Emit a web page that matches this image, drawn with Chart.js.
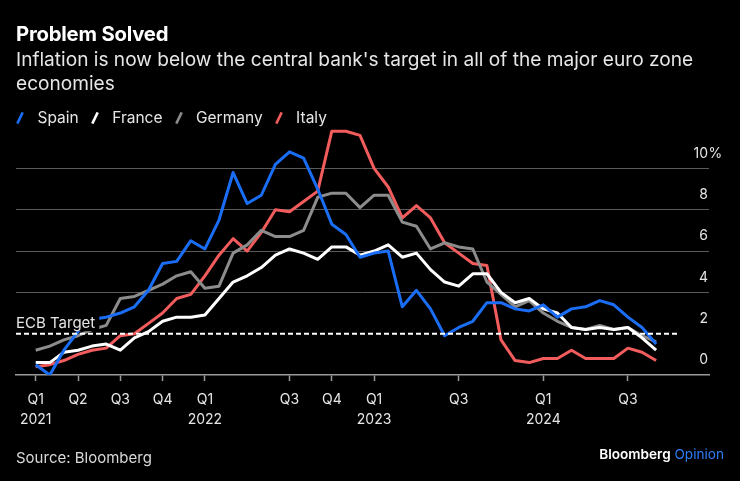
<!DOCTYPE html>
<html>
<head>
<meta charset="utf-8">
<script src="https://cdn.jsdelivr.net/npm/chart.js@4.4.1/dist/chart.umd.min.js"></script>
<style>
html,body{margin:0;padding:0;background:#000;}
#wrap{position:relative;width:740px;height:481px;overflow:hidden;background:#000;font-family:Inter,"Noto Sans",sans-serif;}
#c{position:absolute;left:0;top:0;}
.t{position:absolute;white-space:nowrap;}
#title{left:16px;top:22px;font-size:20.3px;font-weight:700;color:#fff;line-height:24.6px;letter-spacing:-0.2px;}
#sub{left:16px;top:46.6px;font-size:19.1px;color:#e6e6e6;line-height:24.3px;}
#legend{left:16px;top:107.7px;height:20px;font-size:15.5px;color:#e6e6e6;line-height:20px;display:flex;}
.li{display:flex;align-items:flex-start;margin-right:12px;}
.li svg{margin-top:4.5px;margin-right:13.5px;}
#src{left:16px;top:447.8px;font-size:15px;color:#d9d9d9;line-height:20px;}
#brand{right:16px;top:444.2px;font-size:13.6px;line-height:20px;}
#brand b{font-weight:600;color:#fff;}
#brand span{color:#2d7ff9;}
</style>
</head>
<body>
<div id="wrap">
  <canvas id="c" width="740" height="481"></canvas>
  <div class="t" id="title">Problem Solved</div>
  <div class="t" id="sub">Inflation is now below the central bank's target in all of the major euro zone<br>economies</div>
  <div class="t" id="legend"></div>
  <div class="t" id="src">Source: Bloomberg</div>
  <div class="t" id="brand"><b>Bloomberg</b> <span>Opinion</span></div>
</div>
<script>
// ---- data: monthly CPI, y/y %, Jan 2021 - Sep 2024 ----
const months = [
  "Jan 2021","Feb 2021","Mar 2021","Apr 2021","May 2021","Jun 2021","Jul 2021","Aug 2021","Sep 2021","Oct 2021","Nov 2021","Dec 2021",
  "Jan 2022","Feb 2022","Mar 2022","Apr 2022","May 2022","Jun 2022","Jul 2022","Aug 2022","Sep 2022","Oct 2022","Nov 2022","Dec 2022",
  "Jan 2023","Feb 2023","Mar 2023","Apr 2023","May 2023","Jun 2023","Jul 2023","Aug 2023","Sep 2023","Oct 2023","Nov 2023","Dec 2023",
  "Jan 2024","Feb 2024","Mar 2024","Apr 2024","May 2024","Jun 2024","Jul 2024","Aug 2024","Sep 2024"
];
const seriesNames = ["Spain","France","Germany","Italy"];
const spain = [0.5,0.0,1.2,2.1,2.7,2.8,3.0,3.3,4.1,5.4,5.5,6.5,
  6.1,7.5,9.8,8.3,8.7,10.2,10.8,10.5,9.0,7.3,6.8,5.7,
  5.9,6.0,3.3,4.1,3.2,1.9,2.3,2.6,3.5,3.5,3.2,3.1,
  3.4,2.8,3.2,3.3,3.6,3.4,2.8,2.3,1.5];
const france = [0.6,0.6,1.1,1.2,1.4,1.5,1.2,1.8,2.1,2.6,2.8,2.8,
  2.9,3.7,4.5,4.8,5.2,5.8,6.1,5.9,5.6,6.2,6.2,5.8,
  6.0,6.3,5.7,5.9,5.1,4.5,4.3,4.9,4.9,4.0,3.5,3.7,
  3.2,3.0,2.3,2.2,2.3,2.2,2.3,1.8,1.2];
const germany = [1.2,1.4,1.7,1.9,2.2,2.4,3.7,3.8,4.1,4.4,4.8,5.0,
  4.2,4.3,5.9,6.3,7.0,6.7,6.7,7.0,8.6,8.8,8.8,8.1,
  8.7,8.7,7.4,7.2,6.1,6.4,6.2,6.1,4.5,3.9,3.3,3.6,
  3.0,2.6,2.3,2.2,2.4,2.2,2.3,1.9,1.6];
const italy = [0.4,0.5,0.7,1.0,1.2,1.3,1.9,2.0,2.5,3.0,3.7,3.9,
  4.8,5.8,6.6,6.0,6.9,8.0,7.9,8.4,8.9,11.8,11.8,11.6,
  10.0,9.1,7.6,8.2,7.6,6.4,5.9,5.4,5.3,1.7,0.7,0.6,
  0.8,0.8,1.2,0.8,0.8,0.8,1.3,1.1,0.7];
const seriesColors = ["#1a6ef5","#ffffff","#8c8c8c","#f25c5c"];
const tickMonthIdx = [0,3,6,9,12,18,21,24,30,36,42];
const tickLabels = [["Q1","2021"],["Q2"],["Q3"],["Q4"],["Q1","2022"],["Q3"],["Q4"],["Q1","2023"],["Q3"],["Q1","2024"],["Q3"]];
const yTicks = [0,2,4,6,8,10];
const ECB_TARGET = 2;
const ECB_LABEL = "ECB Target";
const ECB_LINE_END = 45.5; // month index where the dashed target line stops

// ---- legend ----
const legend = document.getElementById('legend');
seriesNames.forEach((n,i)=>{
  const d = document.createElement('div'); d.className='li';
  d.innerHTML = '<svg width="8" height="12" viewBox="0 0 8 12"><line x1="1.3" y1="11.6" x2="6.7" y2="0.4" stroke="'+seriesColors[i]+'" stroke-width="2.6"/></svg><span>'+n+'</span>';
  legend.appendChild(d);
});

const toXY = arr => arr.map((v,i)=>({x:i,y:v}));
const allSeries = [spain,france,germany,italy];

const ecbPlugin = {
  id:'ecb',
  afterDatasetsDraw(chart){
    const {ctx, chartArea, scales:{x,y}} = chart;
    const yp = y.getPixelForValue(ECB_TARGET);
    ctx.save();
    ctx.font = '15px Inter';
    const w = ctx.measureText(ECB_LABEL).width;
    const base = yp - 5.5;
    ctx.fillStyle = '#000';
    ctx.fillRect(chartArea.left, base - 14, w + 4, 17);
    ctx.fillStyle = '#e6e6e6';
    ctx.textBaseline = 'alphabetic';
    ctx.fillText(ECB_LABEL, chartArea.left, base);
    ctx.strokeStyle = '#ffffff';
    ctx.lineWidth = 2;
    ctx.setLineDash([5,3]);
    ctx.beginPath();
    ctx.moveTo(chartArea.left, yp);
    ctx.lineTo(x.getPixelForValue(ECB_LINE_END), yp);
    ctx.stroke();
    ctx.restore();
  },
  afterDraw(chart){
    const {ctx, scales:{y}} = chart;
    const top = yTicks[yTicks.length-1];
    ctx.save();
    ctx.font = '14px Inter';
    ctx.fillStyle = '#e6e6e6';
    ctx.textAlign = 'left';
    ctx.textBaseline = 'middle';
    ctx.fillText('%', y.left - 0.5, y.getPixelForValue(top) - 15);
    ctx.restore();
  }
};

Chart.defaults.font.family = 'Inter';
new Chart(document.getElementById('c'), {
  type:'line',
  data:{
    labels: months,
    datasets: allSeries.map((s,i)=>({
      label: seriesNames[i],
      data: toXY(s),
      borderColor: seriesColors[i],
      backgroundColor: seriesColors[i],
      borderWidth: 3,
      pointRadius: 0,
      tension: 0,
      borderJoinStyle: 'round',
      fill: false
    }))
  },
  options:{
    responsive:false,
    animation:false,
    devicePixelRatio:1,
    layout:{padding:{left:16,right:31,top:125,bottom:0}},
    plugins:{legend:{display:false},tooltip:{enabled:false},title:{display:false}},
    scales:{
      x:{
        type:'linear', min:-1.397, max:47.75,
        afterBuildTicks: s => { s.ticks = tickMonthIdx.map(v=>({value:v})); },
        afterFit: s => { s.height = 106; },
        grid:{drawOnChartArea:false, drawTicks:true, tickLength:6, color:'#999', tickColor:'#999', tickWidth:1.5},
        border:{display:true, color:'#999', width:1.5},
        ticks:{autoSkip:false, maxRotation:0, minRotation:0, padding:9, color:'#e6e6e6',
          font:{family:'Inter', size:14, lineHeight:20/14},
          callback:(v,i)=>tickLabels[i]}
      },
      y:{
        position:'right', min:0, max:12.1,
        afterBuildTicks: s => { s.ticks = yTicks.map(v=>({value:v})); },
        grid:{drawTicks:false, lineWidth:1,
          color: c => (c.tick && (c.tick.value===0 || c.tick.value===ECB_TARGET)) ? 'rgba(0,0,0,0)' : '#5a5a5a'},
        border:{display:false},
        ticks:{mirror:true, padding:-1, labelOffset:-15, color:'#e6e6e6',
          font:{family:'Inter', size:14}, callback: v => String(v)}
      }
    }
  },
  plugins:[ecbPlugin]
});
</script>
</body>
</html>
